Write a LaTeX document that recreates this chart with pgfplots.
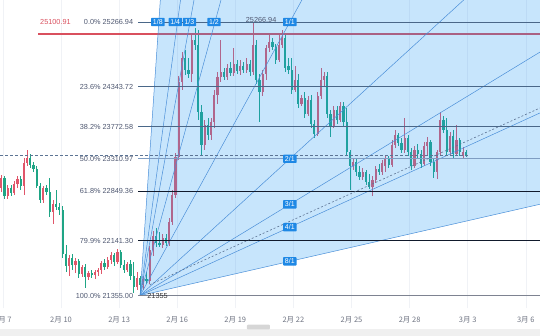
\documentclass[border=0pt]{standalone}
\usepackage{pgfplots}
\usepackage{pgfplotstable}
\pgfplotsset{compat=1.18}
\usepackage{fontspec}
\setmainfont{Liberation Sans}
\newfontfamily\cjk{Noto Sans CJK SC}
\definecolor{upc}{HTML}{E0566A}
\definecolor{dnc}{HTML}{1FA585}
\definecolor{fanblue}{HTML}{2196F3}
\definecolor{fanline}{HTML}{4A8FD8}
\definecolor{fanlab}{HTML}{1E88E5}
\definecolor{fibA}{HTML}{4A6788}
\definecolor{fibB}{HTML}{7F9DC2}
\definecolor{fibC}{HTML}{111A2C}
\definecolor{fibD}{HTML}{7E8391}
\definecolor{labc}{HTML}{4E5770}
\definecolor{redl}{HTML}{D9505E}
\definecolor{gridc}{HTML}{F0F2F6}
\definecolor{tickc}{HTML}{6F7482}
\definecolor{dashc}{HTML}{5C7494}

\pgfplotstableread{
k o h l c
0 22893 23079 22836 23036
1 23036 23065 22736 22779
2 22779 22936 22736 22893
3 22893 22936 22779 22822
4 22822 22993 22793 22950
5 22950 23065 22893 23022
6 23022 23065 22865 22922
7 22922 23322 22793 23251
8 23251 23437 23208 23322
9 23322 23379 23179 23222
10 23222 23265 23122 23165
11 23165 23208 22893 22922
12 22922 22965 22679 22722
13 22722 22922 22679 22893
14 22893 22936 22793 22836
15 22836 23036 22478 22550
16 22550 22722 22378 22664
17 22664 22865 22579 22621
18 22621 22679 22507 22579
19 22579 22636 21892 21949
20 21949 22078 21692 21778
21 21778 21935 21635 21892
22 21892 21949 21721 21792
23 21792 21892 21678 21849
24 21849 21878 21606 21663
25 21663 21792 21620 21763
26 21763 21806 21463 21620
27 21620 21706 21577 21678
28 21678 21721 21606 21649
29 21649 21721 21592 21692
30 21692 21749 21635 21721
31 21721 21849 21663 21821
32 21821 21878 21721 21763
33 21763 21906 21735 21864
34 21864 21978 21806 21935
35 21935 21964 21778 21835
36 21835 22021 21806 21978
37 21978 22007 21749 21792
38 21792 21864 21678 21721
39 21721 21835 21692 21806
40 21806 21864 21577 21635
41 21635 21835 21392 21477
42 21477 21692 21435 21606
43 21606 21635 21355 21506
44 21506 21635 21435 21592
45 21592 21692 21520 21563
46 21563 22064 21520 22007
47 22007 22278 21921 22207
48 22207 22321 22049 22107
49 22107 22264 22049 22078
50 22078 22235 22035 22178
51 22178 22235 22064 22107
52 22107 22464 22064 22407
53 22407 22865 22364 22793
54 22793 23394 22750 23336
55 23336 24495 23294 24409
56 24409 24838 24295 24752
57 24752 24867 24509 24581
58 24581 24752 24466 24523
59 24523 25110 24409 25010
60 25010 25181 24867 24938
61 24938 25152 23866 23980
62 23980 24080 23365 23508
63 23508 23866 23437 23794
64 23794 23894 23580 23651
65 23651 23894 23580 23837
66 23837 24295 23751 24223
67 24223 24552 24094 24480
68 24480 25010 24409 24552
69 24552 24609 24438 24480
70 24480 24666 24438 24609
71 24609 24695 24495 24538
72 24538 24895 24495 24666
73 24666 24724 24523 24566
74 24566 24724 24509 24638
75 24638 24695 24538 24581
76 24581 24752 24538 24666
77 24666 24724 24495 24552
78 24552 25266.94 24509 24938
79 24938 25010 24380 24438
80 24438 24523 23837 24266
81 24266 24581 24209 24523
82 24523 24938 24438 24895
83 24895 25110 24838 24981
84 24981 25038 24867 24909
85 24909 24952 24666 24724
86 24724 25081 24695 24938
87 24938 25152 24895 25038
88 25038 25110 24552 24609
89 24638 24752 24523 24581
90 24581 24752 24237 24295
91 24295 24638 24266 24438
92 24438 24523 24037 24094
93 24094 24223 24066 24180
94 24180 24266 23894 23951
95 23951 24209 23923 24151
96 24151 24223 23751 23808
97 23808 23866 23608 23665
98 23665 24266 23637 24209
99 24209 24609 24166 24438
100 24438 24552 24352 24495
101 24495 24552 23894 23951
102 23951 24009 23622 23780
103 23780 24066 23751 24009
104 24009 24066 23808 23866
105 23866 24123 23837 24066
106 24066 24123 23780 23837
107 23837 24037 23351 23408
108 23408 23437 22865 23208
109 23208 23322 23151 23265
110 23265 23322 23065 23122
111 23122 23208 23008 23050
112 23050 23179 23008 23122
113 23122 23151 22936 22979
114 22979 23093 22879 22907
115 22907 23065 22779 23008
116 23008 23208 22965 23165
117 23165 23236 23079 23122
118 23122 23294 23079 23251
119 23208 23365 23122 23322
120 23322 23351 23179 23222
121 23222 23580 23193 23508
122 23508 23722 23465 23651
123 23651 23680 23494 23537
124 23537 23608 23394 23437
125 23437 23894 23394 23608
126 23608 23651 23351 23408
127 23408 23465 23151 23208
128 23208 23494 23179 23437
129 23437 23522 23322 23379
130 23379 23437 23179 23236
131 23236 23551 23208 23494
132 23494 23622 23351 23551
133 23551 23580 23208 23265
134 23265 23322 23036 23122
135 23122 23437 23022 23408
136 23408 23980 23365 23866
137 23866 23923 23680 23722
138 23722 23894 23351 23408
139 23408 23694 23351 23637
140 23637 23722 23322 23379
141 23379 23794 23351 23580
142 23580 23608 23351 23408
143 23351 23479 23322 23408
144 23408 23437 23336 23355
}\candles

\begin{document}
\begin{tikzpicture}
\begin{axis}[
  scale only axis, width=540pt, height=336pt,
  xmin=-0.4, xmax=166.9, ymin=20776.7, ymax=25581.5,
  axis line style={draw=none}, major tick length=0pt,
  ytick=\empty,
  xtick={0.5,18.5,36.5,54.5,72.5,90.5,108.5,126.5,144.5,162.5},
  xticklabels={2月 7,2月 10,2月 13,2月 16,2月 19,2月 22,2月 25,2月 28,3月 3,3月 6},
  xticklabel style={anchor=center, yshift=16pt, font=\cjk\fontsize{7.5}{8}\selectfont, text=tickc},
]
% grid
\pgfplotsinvokeforeach{0.5,18.5,36.5,54.5,72.5,90.5,108.5,126.5,144.5,162.5}{
  \draw[gridc, line width=0.6pt] (axis cs:#1,21170) -- (axis cs:#1,25581.5);
}
% bottom bar
\fill[black!6] (axis cs:-0.4,20776.7) rectangle (axis cs:166.9,20880);
\fill[black!16, rounded corners=1pt] (axis cs:76.1,20870) rectangle (axis cs:83.2,20940);

% wicks
\addplot[draw=none, mark=none, forget plot, error bars/.cd, y dir=both, y explicit, error mark=none,
  error bar style={draw=upc, solid, line width=0.65pt}]
  table[x=k, y expr={\thisrow{c}>=\thisrow{o} ? 0.5*(\thisrow{h}+\thisrow{l}) : nan}, y error expr={0.5*(\thisrow{h}-\thisrow{l})}] {\candles};
\addplot[draw=none, mark=none, forget plot, error bars/.cd, y dir=both, y explicit, error mark=none,
  error bar style={draw=dnc, solid, line width=0.65pt}]
  table[x=k, y expr={\thisrow{c}<\thisrow{o} ? 0.5*(\thisrow{h}+\thisrow{l}) : nan}, y error expr={0.5*(\thisrow{h}-\thisrow{l})}] {\candles};
% bodies
\addplot[draw=none, mark=none, forget plot, error bars/.cd, y dir=both, y explicit, error mark=none,
  error bar style={draw=upc, solid, line width=2.2pt}]
  table[x=k, y expr={\thisrow{c}>=\thisrow{o} ? 0.5*(\thisrow{o}+\thisrow{c}) : nan}, y error expr={max(0.5*abs(\thisrow{c}-\thisrow{o}),6)}] {\candles};
\addplot[draw=none, mark=none, forget plot, error bars/.cd, y dir=both, y explicit, error mark=none,
  error bar style={draw=dnc, solid, line width=2.2pt}]
  table[x=k, y expr={\thisrow{c}<\thisrow{o} ? 0.5*(\thisrow{o}+\thisrow{c}) : nan}, y error expr={max(0.5*abs(\thisrow{c}-\thisrow{o}),6)}] {\candles};

% red horizontal line
\addplot[redl, line width=1.9pt, forget plot] coordinates {(11.4,25100.91) (166.9,25100.91)};

% fan fill
\addplot[draw=none, fill=fanblue, fill opacity=0.25, forget plot] coordinates {(43,21355) (49.27,25581.5) (166.9,25581.5) (166.9,22660.7)} -- cycle;

% fan lines
\addplot[fanline, line width=0.5pt, forget plot] coordinates {(43,21355) (49.27,25581.5)};
\addplot[fanline, line width=0.5pt, forget plot] coordinates {(43,21355) (55.53,25581.5)};
\addplot[fanline, line width=0.5pt, forget plot] coordinates {(43,21355) (59.71,25581.5)};
\addplot[fanline, line width=0.5pt, forget plot] coordinates {(43,21355) (68.07,25581.5)};
\addplot[fanline, line width=0.5pt, forget plot] coordinates {(43,21355) (93.13,25581.5)};
\addplot[fanline, line width=0.5pt, forget plot] coordinates {(43,21355) (143.26,25581.5)};
\addplot[fanline, line width=0.5pt, forget plot] coordinates {(43,21355) (166.9,24836.96)};
\addplot[fanline, line width=0.5pt, forget plot] coordinates {(43,21355) (166.9,23966.5)};
\addplot[fanline, line width=0.5pt, forget plot] coordinates {(43,21355) (166.9,22660.7)};

% fib lines
\addplot[fibA, line width=0.8pt, forget plot] coordinates {(42.5,25266.94) (166.9,25266.94)};
\addplot[fibA, line width=0.8pt, forget plot] coordinates {(42.5,24343.72) (166.9,24343.72)};
\addplot[fibA, line width=0.8pt, forget plot] coordinates {(42.5,23772.58) (166.9,23772.58)};
\addplot[fibB, line width=0.8pt, forget plot] coordinates {(42.5,23310.97) (166.9,23310.97)};
\addplot[fibC, line width=0.9pt, forget plot] coordinates {(42.5,22849.36) (166.9,22849.36)};
\addplot[fibC, line width=0.9pt, forget plot] coordinates {(42.5,22141.30) (166.9,22141.30)};
\addplot[fibD, line width=0.8pt, forget plot] coordinates {(42.5,21355) (166.9,21355)};

% last price line and trend line
\addplot[dashc, line width=0.5pt, dash pattern=on 2.5pt off 2.5pt, forget plot] coordinates {(-0.4,23355) (145,23355)};
\addplot[dashc, line width=0.6pt, dash pattern=on 2pt off 2pt, forget plot] coordinates {(46,21510) (166.9,24037)};

% fib labels
\begin{scope}[every node/.style={font=\fontsize{7.3}{8}\selectfont, text=labc, anchor=east, inner sep=0pt}]
\node at (axis cs:40.9,25266.94) {0.0\% 25266.94};
\node at (axis cs:40.9,24343.72) {23.6\% 24343.72};
\node at (axis cs:40.9,23772.58) {38.2\% 23772.58};
\node at (axis cs:40.9,23310.97) {50.0\% 23310.97};
\node at (axis cs:40.9,22849.36) {61.8\% 22849.36};
\node at (axis cs:40.9,22141.30) {79.9\% 22141.30};
\node at (axis cs:40.9,21355) {100.0\% 21355.00};
\end{scope}
\node[font=\fontsize{7.3}{8}\selectfont, text=redl, anchor=west, inner sep=0pt] at (axis cs:12.0,25260) {25100.91};
\node[font=\fontsize{7.3}{8}\selectfont, text=labc, inner sep=0pt] at (axis cs:80.5,25300) {25266.94};
\node[font=\fontsize{7.3}{8}\selectfont, text=black!80, anchor=west, inner sep=0pt] at (axis cs:45.2,21355) {21355};

% fan labels
\begin{scope}[every node/.style={fill=fanlab, text=white, font=\fontsize{7}{8}\selectfont, inner xsep=1.8pt, inner ysep=1.6pt, rounded corners=0.6pt}]
\node at (axis cs:48.5,25266.94) {1/8};
\node at (axis cs:53.9,25266.94) {1/4};
\node at (axis cs:58.3,25266.94) {1/3};
\node at (axis cs:65.9,25266.94) {1/2};
\node at (axis cs:89.4,25266.94) {1/1};
\node at (axis cs:89.4,23310.97) {2/1};
\node at (axis cs:89.4,22658.98) {3/1};
\node at (axis cs:89.4,22332.99) {4/1};
\node at (axis cs:89.4,21843.99) {8/1};
\end{scope}
\end{axis}
\pgfresetboundingbox
\path (current axis.south west) rectangle (current axis.north east);
\end{tikzpicture}
\end{document}
